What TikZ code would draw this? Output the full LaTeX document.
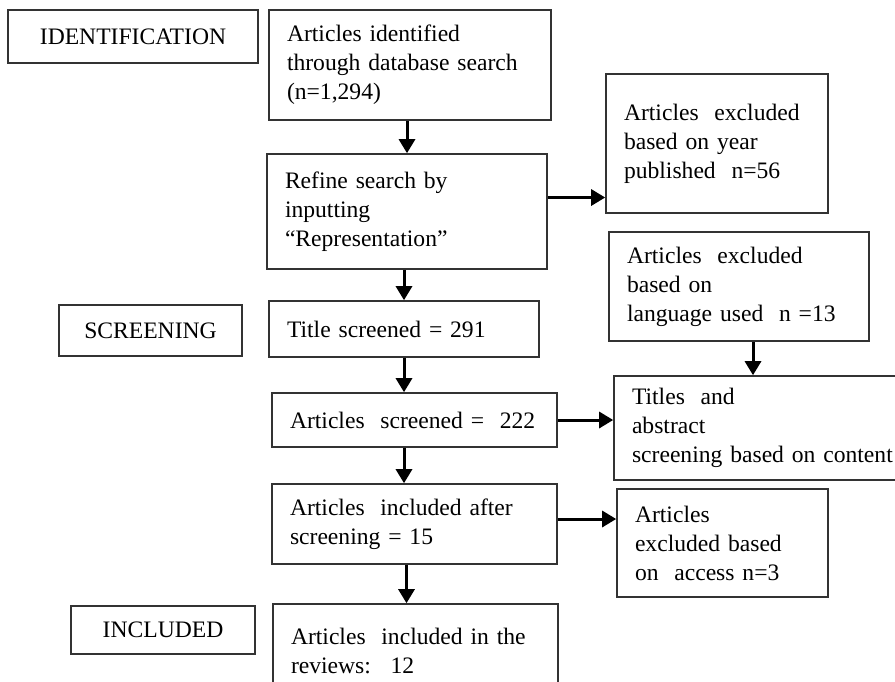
\documentclass[tikz,border=0pt]{standalone}
\usepackage{fontspec}
\setmainfont{Liberation Serif}
\usetikzlibrary{arrows.meta}
\begin{document}
\begin{tikzpicture}[x=0.5pt,y=-0.5pt,->,>={Triangle[length=7pt,width=8pt]},
  every node/.style={font=\fontsize{11.8}{14.5}\selectfont},
  box/.style 2 args={draw=black!80,line width=0.8pt,align=left,inner xsep=9pt,
    inner ysep=0pt,text width=#1,minimum height=#2,
    execute at begin node={\hyphenpenalty=10000\exhyphenpenalty=10000}},
  stage/.style 2 args={draw=black!80,line width=0.8pt,align=center,inner sep=0pt,
    minimum width=#1,minimum height=#2},
  flow/.style={line width=1.5pt}]
\useasboundingbox (0,0) rectangle (895,681);
\clip (0,0) rectangle (895,681);
% stage labels
\node[stage={125pt}{26.5pt}] (ident) at (133,36.5) {IDENTIFICATION};
\node[stage={91.5pt}{25.5pt}] (screen) at (150.5,330.5) {SCREENING};
\node[stage={92pt}{24pt}] (incl) at (163,630) {INCLUDED};
% main column
\node[box={123pt}{55pt}] (found) at (410,65) {Articles identified\\through database search\\(n=1,294)};
\node[box={122pt}{57.5pt}] (refine) at (407,211.5) {Refine search by\\inputting\\``Representation''};
\node[box={117pt}{28pt}] (title) at (404,329) {Title screened = 291};
\node[box={124.5pt}{27pt}] (screened) at (414.5,420) {Articles~ screened =~ 222};
\node[box={124.5pt}{40pt}] (kept) at (414.5,524) {Articles~ included after\\screening = 15};
\node[box={124.5pt}{47pt}] (reviews) at (415.5,651) {Articles~ included in the\\reviews:~ 12};
% excluded
\node[box={93pt}{69.5pt}] (year) at (717,143.5) {Articles~ excluded\\based on year\\published~ n=56};
\node[box={112pt}{54.5pt}] (lang) at (739,286.5) {Articles~ excluded\\based on\\language used~ n =13};
\node[box={135pt}{52pt}] (abstr) at (767,428) {Titles~ and\\abstract\\screening based on content};
\node[box={87.5pt}{54pt}] (access) at (722.5,543) {Articles\\excluded based\\on~ access n=3};
% arrows
\draw[flow] (found.south -| refine.north) -- (refine.north);
\draw[flow] (refine.south -| title.north) -- (title.north);
\draw[flow] (title.south) -- (title.south |- screened.north);
\draw[flow] (screened.south -| title.south) -- (kept.north -| title.south);
\draw[flow] ([xshift=-4pt]kept.south) -- ([xshift=-4pt]kept.south |- reviews.north);
\draw[flow] ([yshift=7pt]refine.east) -- ([yshift=7pt]refine.east -| year.west);
\draw[flow] (screened.east) -- (screened.east -| abstr.west);
\draw[flow] ([yshift=2.5pt]kept.east) -- ([yshift=2.5pt]kept.east -| access.west);
\draw[flow] ([xshift=7pt]lang.south) -- ([xshift=7pt]lang.south |- abstr.north);
\end{tikzpicture}
\end{document}
